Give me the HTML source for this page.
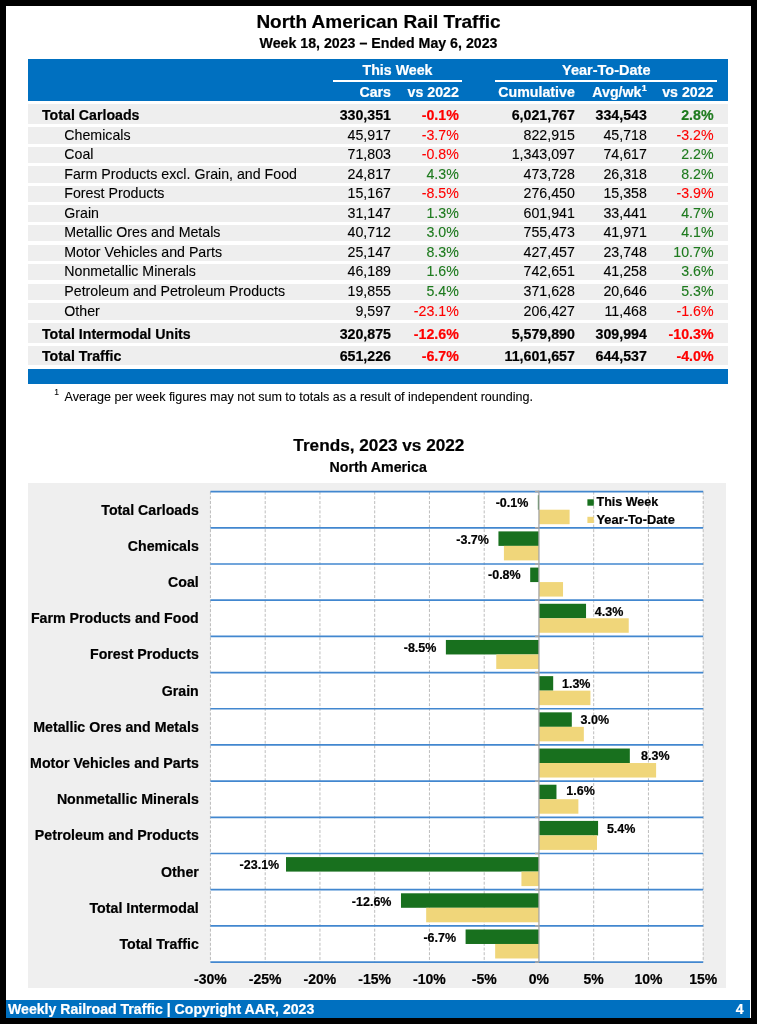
<!DOCTYPE html>
<html><head><meta charset="utf-8"><title>North American Rail Traffic</title>
<style>
*{margin:0;padding:0;box-sizing:border-box}
html,body{width:757px;height:1024px;overflow:hidden;background:#000}
body{font-family:"Liberation Sans",sans-serif;color:#000;position:relative;-webkit-font-smoothing:antialiased}
#wrap{position:absolute;left:0;top:0;width:757px;height:1024px;will-change:transform}
.a{-webkit-text-stroke:0.1px currentColor}
.a.b{-webkit-text-stroke:0.2px currentColor}
svg text{stroke:currentColor;stroke-width:0.2px}
#page{position:absolute;left:6px;top:6px;width:745px;height:1012px;background:#fff}
.a{position:absolute;white-space:nowrap}
.r{text-align:right}
.c{text-align:center}
.b{font-weight:bold}
.w{color:#fff}
.red{color:#ff0000}
.grn{color:#1d7a1d}
.bar{position:absolute;left:28px;width:700px;background:#0070c0}
.row{position:absolute;left:28px;width:700px;background:#eeeeee}
</style></head><body><div id="wrap">
<div id="page"></div>

<div class="a c b" style="left:228.50px;width:300px;top:12.12px;font-size:19px;line-height:19px;">North American Rail Traffic</div>
<div class="a c b" style="left:228.50px;width:300px;top:35.98px;font-size:14.2px;line-height:14.2px;">Week 18, 2023 &ndash; Ended May 6, 2023</div>
<div class="bar" style="top:59px;height:42px"></div>
<div class="a" style="left:332.5px;top:80px;width:129px;height:2px;background:#fff"></div>
<div class="a" style="left:495px;top:80px;width:222px;height:2px;background:#fff"></div>
<div class="a c b w" style="left:247.50px;width:300px;top:63.18px;font-size:14.2px;line-height:14.2px;">This Week</div>
<div class="a c b w" style="left:456.30px;width:300px;top:62.93px;font-size:14.5px;line-height:14.5px;">Year-To-Date</div>
<div class="a r b w" style="right:366.00px;top:85.48px;font-size:14.2px;line-height:14.2px;">Cars</div>
<div class="a r b w" style="right:298.20px;top:85.48px;font-size:14.2px;line-height:14.2px;">vs 2022</div>
<div class="a r b w" style="right:182.20px;top:85.48px;font-size:14.2px;line-height:14.2px;">Cumulative</div>
<div class="a r b w" style="right:110.20px;top:85.48px;font-size:14.2px;line-height:14.2px;">Avg/wk<sup style="font-size:9px;position:relative;top:-6.3px;vertical-align:baseline;margin-left:0.3px">1</sup></div>
<div class="a r b w" style="right:43.50px;top:85.48px;font-size:14.2px;line-height:14.2px;">vs 2022</div>
<div class="row" style="top:104.00px;height:20.00px"></div>
<div class="a b" style="left:42.00px;top:107.78px;font-size:14.2px;line-height:14.2px;">Total Carloads</div>
<div class="a r b" style="right:366.00px;top:107.78px;font-size:14.2px;line-height:14.2px;">330,351</div>
<div class="a r b red" style="right:298.20px;top:107.78px;font-size:14.2px;line-height:14.2px;">-0.1%</div>
<div class="a r b" style="right:182.20px;top:107.78px;font-size:14.2px;line-height:14.2px;">6,021,767</div>
<div class="a r b" style="right:110.20px;top:107.78px;font-size:14.2px;line-height:14.2px;">334,543</div>
<div class="a r b grn" style="right:43.50px;top:107.78px;font-size:14.2px;line-height:14.2px;">2.8%</div>
<div class="row" style="top:127.20px;height:16.40px"></div>
<div class="a " style="left:64.30px;top:127.58px;font-size:14.2px;line-height:14.2px;">Chemicals</div>
<div class="a r " style="right:366.00px;top:127.58px;font-size:14.2px;line-height:14.2px;">45,917</div>
<div class="a r  red" style="right:298.20px;top:127.58px;font-size:14.2px;line-height:14.2px;">-3.7%</div>
<div class="a r " style="right:182.20px;top:127.58px;font-size:14.2px;line-height:14.2px;">822,915</div>
<div class="a r " style="right:110.20px;top:127.58px;font-size:14.2px;line-height:14.2px;">45,718</div>
<div class="a r  red" style="right:43.50px;top:127.58px;font-size:14.2px;line-height:14.2px;">-3.2%</div>
<div class="row" style="top:146.75px;height:16.40px"></div>
<div class="a " style="left:64.30px;top:147.13px;font-size:14.2px;line-height:14.2px;">Coal</div>
<div class="a r " style="right:366.00px;top:147.13px;font-size:14.2px;line-height:14.2px;">71,803</div>
<div class="a r  red" style="right:298.20px;top:147.13px;font-size:14.2px;line-height:14.2px;">-0.8%</div>
<div class="a r " style="right:182.20px;top:147.13px;font-size:14.2px;line-height:14.2px;">1,343,097</div>
<div class="a r " style="right:110.20px;top:147.13px;font-size:14.2px;line-height:14.2px;">74,617</div>
<div class="a r  grn" style="right:43.50px;top:147.13px;font-size:14.2px;line-height:14.2px;">2.2%</div>
<div class="row" style="top:166.30px;height:16.40px"></div>
<div class="a " style="left:64.30px;top:166.68px;font-size:14.2px;line-height:14.2px;">Farm Products excl. Grain, and Food</div>
<div class="a r " style="right:366.00px;top:166.68px;font-size:14.2px;line-height:14.2px;">24,817</div>
<div class="a r  grn" style="right:298.20px;top:166.68px;font-size:14.2px;line-height:14.2px;">4.3%</div>
<div class="a r " style="right:182.20px;top:166.68px;font-size:14.2px;line-height:14.2px;">473,728</div>
<div class="a r " style="right:110.20px;top:166.68px;font-size:14.2px;line-height:14.2px;">26,318</div>
<div class="a r  grn" style="right:43.50px;top:166.68px;font-size:14.2px;line-height:14.2px;">8.2%</div>
<div class="row" style="top:185.85px;height:16.40px"></div>
<div class="a " style="left:64.30px;top:186.23px;font-size:14.2px;line-height:14.2px;">Forest Products</div>
<div class="a r " style="right:366.00px;top:186.23px;font-size:14.2px;line-height:14.2px;">15,167</div>
<div class="a r  red" style="right:298.20px;top:186.23px;font-size:14.2px;line-height:14.2px;">-8.5%</div>
<div class="a r " style="right:182.20px;top:186.23px;font-size:14.2px;line-height:14.2px;">276,450</div>
<div class="a r " style="right:110.20px;top:186.23px;font-size:14.2px;line-height:14.2px;">15,358</div>
<div class="a r  red" style="right:43.50px;top:186.23px;font-size:14.2px;line-height:14.2px;">-3.9%</div>
<div class="row" style="top:205.40px;height:16.40px"></div>
<div class="a " style="left:64.30px;top:205.78px;font-size:14.2px;line-height:14.2px;">Grain</div>
<div class="a r " style="right:366.00px;top:205.78px;font-size:14.2px;line-height:14.2px;">31,147</div>
<div class="a r  grn" style="right:298.20px;top:205.78px;font-size:14.2px;line-height:14.2px;">1.3%</div>
<div class="a r " style="right:182.20px;top:205.78px;font-size:14.2px;line-height:14.2px;">601,941</div>
<div class="a r " style="right:110.20px;top:205.78px;font-size:14.2px;line-height:14.2px;">33,441</div>
<div class="a r  grn" style="right:43.50px;top:205.78px;font-size:14.2px;line-height:14.2px;">4.7%</div>
<div class="row" style="top:224.95px;height:16.40px"></div>
<div class="a " style="left:64.30px;top:225.33px;font-size:14.2px;line-height:14.2px;">Metallic Ores and Metals</div>
<div class="a r " style="right:366.00px;top:225.33px;font-size:14.2px;line-height:14.2px;">40,712</div>
<div class="a r  grn" style="right:298.20px;top:225.33px;font-size:14.2px;line-height:14.2px;">3.0%</div>
<div class="a r " style="right:182.20px;top:225.33px;font-size:14.2px;line-height:14.2px;">755,473</div>
<div class="a r " style="right:110.20px;top:225.33px;font-size:14.2px;line-height:14.2px;">41,971</div>
<div class="a r  grn" style="right:43.50px;top:225.33px;font-size:14.2px;line-height:14.2px;">4.1%</div>
<div class="row" style="top:244.50px;height:16.40px"></div>
<div class="a " style="left:64.30px;top:244.88px;font-size:14.2px;line-height:14.2px;">Motor Vehicles and Parts</div>
<div class="a r " style="right:366.00px;top:244.88px;font-size:14.2px;line-height:14.2px;">25,147</div>
<div class="a r  grn" style="right:298.20px;top:244.88px;font-size:14.2px;line-height:14.2px;">8.3%</div>
<div class="a r " style="right:182.20px;top:244.88px;font-size:14.2px;line-height:14.2px;">427,457</div>
<div class="a r " style="right:110.20px;top:244.88px;font-size:14.2px;line-height:14.2px;">23,748</div>
<div class="a r  grn" style="right:43.50px;top:244.88px;font-size:14.2px;line-height:14.2px;">10.7%</div>
<div class="row" style="top:264.05px;height:16.40px"></div>
<div class="a " style="left:64.30px;top:264.43px;font-size:14.2px;line-height:14.2px;">Nonmetallic Minerals</div>
<div class="a r " style="right:366.00px;top:264.43px;font-size:14.2px;line-height:14.2px;">46,189</div>
<div class="a r  grn" style="right:298.20px;top:264.43px;font-size:14.2px;line-height:14.2px;">1.6%</div>
<div class="a r " style="right:182.20px;top:264.43px;font-size:14.2px;line-height:14.2px;">742,651</div>
<div class="a r " style="right:110.20px;top:264.43px;font-size:14.2px;line-height:14.2px;">41,258</div>
<div class="a r  grn" style="right:43.50px;top:264.43px;font-size:14.2px;line-height:14.2px;">3.6%</div>
<div class="row" style="top:283.60px;height:16.40px"></div>
<div class="a " style="left:64.30px;top:283.98px;font-size:14.2px;line-height:14.2px;">Petroleum and Petroleum Products</div>
<div class="a r " style="right:366.00px;top:283.98px;font-size:14.2px;line-height:14.2px;">19,855</div>
<div class="a r  grn" style="right:298.20px;top:283.98px;font-size:14.2px;line-height:14.2px;">5.4%</div>
<div class="a r " style="right:182.20px;top:283.98px;font-size:14.2px;line-height:14.2px;">371,628</div>
<div class="a r " style="right:110.20px;top:283.98px;font-size:14.2px;line-height:14.2px;">20,646</div>
<div class="a r  grn" style="right:43.50px;top:283.98px;font-size:14.2px;line-height:14.2px;">5.3%</div>
<div class="row" style="top:303.15px;height:16.40px"></div>
<div class="a " style="left:64.30px;top:303.53px;font-size:14.2px;line-height:14.2px;">Other</div>
<div class="a r " style="right:366.00px;top:303.53px;font-size:14.2px;line-height:14.2px;">9,597</div>
<div class="a r  red" style="right:298.20px;top:303.53px;font-size:14.2px;line-height:14.2px;">-23.1%</div>
<div class="a r " style="right:182.20px;top:303.53px;font-size:14.2px;line-height:14.2px;">206,427</div>
<div class="a r " style="right:110.20px;top:303.53px;font-size:14.2px;line-height:14.2px;">11,468</div>
<div class="a r  red" style="right:43.50px;top:303.53px;font-size:14.2px;line-height:14.2px;">-1.6%</div>
<div class="row" style="top:323.00px;height:19.50px"></div>
<div class="a b" style="left:42.00px;top:326.68px;font-size:14.2px;line-height:14.2px;">Total Intermodal Units</div>
<div class="a r b" style="right:366.00px;top:326.68px;font-size:14.2px;line-height:14.2px;">320,875</div>
<div class="a r b red" style="right:298.20px;top:326.68px;font-size:14.2px;line-height:14.2px;">-12.6%</div>
<div class="a r b" style="right:182.20px;top:326.68px;font-size:14.2px;line-height:14.2px;">5,579,890</div>
<div class="a r b" style="right:110.20px;top:326.68px;font-size:14.2px;line-height:14.2px;">309,994</div>
<div class="a r b red" style="right:43.50px;top:326.68px;font-size:14.2px;line-height:14.2px;">-10.3%</div>
<div class="row" style="top:346.00px;height:19.20px"></div>
<div class="a b" style="left:42.00px;top:349.28px;font-size:14.2px;line-height:14.2px;">Total Traffic</div>
<div class="a r b" style="right:366.00px;top:349.28px;font-size:14.2px;line-height:14.2px;">651,226</div>
<div class="a r b red" style="right:298.20px;top:349.28px;font-size:14.2px;line-height:14.2px;">-6.7%</div>
<div class="a r b" style="right:182.20px;top:349.28px;font-size:14.2px;line-height:14.2px;">11,601,657</div>
<div class="a r b" style="right:110.20px;top:349.28px;font-size:14.2px;line-height:14.2px;">644,537</div>
<div class="a r b red" style="right:43.50px;top:349.28px;font-size:14.2px;line-height:14.2px;">-4.0%</div>
<div class="bar" style="top:368.6px;height:15.2px"></div>
<div class="a" style="left:54.2px;top:388.2px;font-size:8.5px;line-height:8.5px">1</div>
<div class="a " style="left:64.50px;top:390.88px;font-size:12.55px;line-height:12.55px;">Average per week figures may not sum to totals as a result of independent rounding.</div>
<div class="a c b" style="left:228.90px;width:300px;top:436.84px;font-size:17.2px;line-height:17.2px;">Trends, 2023 vs 2022</div>
<div class="a c b" style="left:228.20px;width:300px;top:459.68px;font-size:14.2px;line-height:14.2px;">North America</div>
<div class="a" style="left:28px;top:482.5px;width:698.4px;height:505.7px;background:#efefef"></div>
<svg class="a" style="left:0;top:0" width="757" height="1024" viewBox="0 0 757 1024">
<rect x="210.45" y="491.60" width="492.75" height="470.47" fill="#fff"/>
<line x1="210.45" y1="491.60" x2="210.45" y2="962.07" stroke="#bdbdbd" stroke-width="1" stroke-dasharray="3 1.7"/>
<line x1="265.20" y1="491.60" x2="265.20" y2="962.07" stroke="#bdbdbd" stroke-width="1" stroke-dasharray="3 1.7"/>
<line x1="319.95" y1="491.60" x2="319.95" y2="962.07" stroke="#bdbdbd" stroke-width="1" stroke-dasharray="3 1.7"/>
<line x1="374.70" y1="491.60" x2="374.70" y2="962.07" stroke="#bdbdbd" stroke-width="1" stroke-dasharray="3 1.7"/>
<line x1="429.45" y1="491.60" x2="429.45" y2="962.07" stroke="#bdbdbd" stroke-width="1" stroke-dasharray="3 1.7"/>
<line x1="484.20" y1="491.60" x2="484.20" y2="962.07" stroke="#bdbdbd" stroke-width="1" stroke-dasharray="3 1.7"/>
<line x1="593.70" y1="491.60" x2="593.70" y2="962.07" stroke="#bdbdbd" stroke-width="1" stroke-dasharray="3 1.7"/>
<line x1="648.45" y1="491.60" x2="648.45" y2="962.07" stroke="#bdbdbd" stroke-width="1" stroke-dasharray="3 1.7"/>
<line x1="703.20" y1="491.60" x2="703.20" y2="962.07" stroke="#bdbdbd" stroke-width="1" stroke-dasharray="3 1.7"/>
<rect x="537.86" y="495.20" width="1.10" height="14.5" fill="#18701e"/>
<rect x="538.95" y="509.70" width="30.66" height="14.5" fill="#f0d67a"/>
<rect x="498.44" y="531.39" width="40.51" height="14.5" fill="#18701e"/>
<rect x="503.91" y="545.89" width="35.04" height="14.5" fill="#f0d67a"/>
<rect x="530.19" y="567.58" width="8.76" height="14.5" fill="#18701e"/>
<rect x="538.95" y="582.08" width="24.09" height="14.5" fill="#f0d67a"/>
<rect x="538.95" y="603.77" width="47.09" height="14.5" fill="#18701e"/>
<rect x="538.95" y="618.27" width="89.79" height="14.5" fill="#f0d67a"/>
<rect x="445.88" y="639.96" width="93.07" height="14.5" fill="#18701e"/>
<rect x="496.25" y="654.46" width="42.70" height="14.5" fill="#f0d67a"/>
<rect x="538.95" y="676.15" width="14.24" height="14.5" fill="#18701e"/>
<rect x="538.95" y="690.65" width="51.47" height="14.5" fill="#f0d67a"/>
<rect x="538.95" y="712.34" width="32.85" height="14.5" fill="#18701e"/>
<rect x="538.95" y="726.84" width="44.89" height="14.5" fill="#f0d67a"/>
<rect x="538.95" y="748.53" width="90.88" height="14.5" fill="#18701e"/>
<rect x="538.95" y="763.03" width="117.16" height="14.5" fill="#f0d67a"/>
<rect x="538.95" y="784.72" width="17.52" height="14.5" fill="#18701e"/>
<rect x="538.95" y="799.22" width="39.42" height="14.5" fill="#f0d67a"/>
<rect x="538.95" y="820.91" width="59.13" height="14.5" fill="#18701e"/>
<rect x="538.95" y="835.41" width="58.03" height="14.5" fill="#f0d67a"/>
<rect x="286.01" y="857.10" width="252.94" height="14.5" fill="#18701e"/>
<rect x="521.43" y="871.60" width="17.52" height="14.5" fill="#f0d67a"/>
<rect x="400.98" y="893.29" width="137.97" height="14.5" fill="#18701e"/>
<rect x="426.17" y="907.79" width="112.78" height="14.5" fill="#f0d67a"/>
<rect x="465.59" y="929.48" width="73.37" height="14.5" fill="#18701e"/>
<rect x="495.15" y="943.98" width="43.80" height="14.5" fill="#f0d67a"/>
<line x1="210.45" y1="491.60" x2="703.20" y2="491.60" stroke="#4287cf" stroke-width="1.7"/>
<line x1="210.45" y1="527.79" x2="703.20" y2="527.79" stroke="#4287cf" stroke-width="1.7"/>
<line x1="210.45" y1="563.98" x2="703.20" y2="563.98" stroke="#4287cf" stroke-width="1.7"/>
<line x1="210.45" y1="600.17" x2="703.20" y2="600.17" stroke="#4287cf" stroke-width="1.7"/>
<line x1="210.45" y1="636.36" x2="703.20" y2="636.36" stroke="#4287cf" stroke-width="1.7"/>
<line x1="210.45" y1="672.55" x2="703.20" y2="672.55" stroke="#4287cf" stroke-width="1.7"/>
<line x1="210.45" y1="708.74" x2="703.20" y2="708.74" stroke="#4287cf" stroke-width="1.7"/>
<line x1="210.45" y1="744.93" x2="703.20" y2="744.93" stroke="#4287cf" stroke-width="1.7"/>
<line x1="210.45" y1="781.12" x2="703.20" y2="781.12" stroke="#4287cf" stroke-width="1.7"/>
<line x1="210.45" y1="817.31" x2="703.20" y2="817.31" stroke="#4287cf" stroke-width="1.7"/>
<line x1="210.45" y1="853.50" x2="703.20" y2="853.50" stroke="#4287cf" stroke-width="1.7"/>
<line x1="210.45" y1="889.69" x2="703.20" y2="889.69" stroke="#4287cf" stroke-width="1.7"/>
<line x1="210.45" y1="925.88" x2="703.20" y2="925.88" stroke="#4287cf" stroke-width="1.7"/>
<line x1="210.45" y1="962.07" x2="703.20" y2="962.07" stroke="#4287cf" stroke-width="1.7"/>
<line x1="538.95" y1="490.80" x2="538.95" y2="962.07" stroke="#a6a6a6" stroke-width="1.3"/>
<line x1="534.95" y1="491.60" x2="538.95" y2="491.60" stroke="#a6a6a6" stroke-width="1.6"/>
<line x1="534.95" y1="527.79" x2="538.95" y2="527.79" stroke="#a6a6a6" stroke-width="1.6"/>
<line x1="534.95" y1="563.98" x2="538.95" y2="563.98" stroke="#a6a6a6" stroke-width="1.6"/>
<line x1="534.95" y1="600.17" x2="538.95" y2="600.17" stroke="#a6a6a6" stroke-width="1.6"/>
<line x1="534.95" y1="636.36" x2="538.95" y2="636.36" stroke="#a6a6a6" stroke-width="1.6"/>
<line x1="534.95" y1="672.55" x2="538.95" y2="672.55" stroke="#a6a6a6" stroke-width="1.6"/>
<line x1="534.95" y1="708.74" x2="538.95" y2="708.74" stroke="#a6a6a6" stroke-width="1.6"/>
<line x1="534.95" y1="744.93" x2="538.95" y2="744.93" stroke="#a6a6a6" stroke-width="1.6"/>
<line x1="534.95" y1="781.12" x2="538.95" y2="781.12" stroke="#a6a6a6" stroke-width="1.6"/>
<line x1="534.95" y1="817.31" x2="538.95" y2="817.31" stroke="#a6a6a6" stroke-width="1.6"/>
<line x1="534.95" y1="853.50" x2="538.95" y2="853.50" stroke="#a6a6a6" stroke-width="1.6"/>
<line x1="534.95" y1="889.69" x2="538.95" y2="889.69" stroke="#a6a6a6" stroke-width="1.6"/>
<line x1="534.95" y1="925.88" x2="538.95" y2="925.88" stroke="#a6a6a6" stroke-width="1.6"/>
<line x1="534.95" y1="962.07" x2="538.95" y2="962.07" stroke="#a6a6a6" stroke-width="1.6"/>
<text x="198.8" y="514.60" text-anchor="end" font-family="Liberation Sans" font-weight="bold" font-size="14.2">Total Carloads</text>
<text x="198.8" y="550.78" text-anchor="end" font-family="Liberation Sans" font-weight="bold" font-size="14.2">Chemicals</text>
<text x="198.8" y="586.98" text-anchor="end" font-family="Liberation Sans" font-weight="bold" font-size="14.2">Coal</text>
<text x="198.8" y="623.16" text-anchor="end" font-family="Liberation Sans" font-weight="bold" font-size="14.2">Farm Products and Food</text>
<text x="198.8" y="659.36" text-anchor="end" font-family="Liberation Sans" font-weight="bold" font-size="14.2">Forest Products</text>
<text x="198.8" y="695.54" text-anchor="end" font-family="Liberation Sans" font-weight="bold" font-size="14.2">Grain</text>
<text x="198.8" y="731.74" text-anchor="end" font-family="Liberation Sans" font-weight="bold" font-size="14.2">Metallic Ores and Metals</text>
<text x="198.8" y="767.92" text-anchor="end" font-family="Liberation Sans" font-weight="bold" font-size="14.2">Motor Vehicles and Parts</text>
<text x="198.8" y="804.12" text-anchor="end" font-family="Liberation Sans" font-weight="bold" font-size="14.2">Nonmetallic Minerals</text>
<text x="198.8" y="840.30" text-anchor="end" font-family="Liberation Sans" font-weight="bold" font-size="14.2">Petroleum and Products</text>
<text x="198.8" y="876.50" text-anchor="end" font-family="Liberation Sans" font-weight="bold" font-size="14.2">Other</text>
<text x="198.8" y="912.68" text-anchor="end" font-family="Liberation Sans" font-weight="bold" font-size="14.2">Total Intermodal</text>
<text x="198.8" y="948.88" text-anchor="end" font-family="Liberation Sans" font-weight="bold" font-size="14.2">Total Traffic</text>
<text x="528.36" y="507.05" text-anchor="end" font-family="Liberation Sans" font-weight="bold" font-size="12.5">-0.1%</text>
<text x="488.94" y="543.94" text-anchor="end" font-family="Liberation Sans" font-weight="bold" font-size="12.5">-3.7%</text>
<text x="520.69" y="579.43" text-anchor="end" font-family="Liberation Sans" font-weight="bold" font-size="12.5">-0.8%</text>
<text x="594.84" y="615.62" font-family="Liberation Sans" font-weight="bold" font-size="12.5">4.3%</text>
<text x="436.38" y="651.81" text-anchor="end" font-family="Liberation Sans" font-weight="bold" font-size="12.5">-8.5%</text>
<text x="561.99" y="688.00" font-family="Liberation Sans" font-weight="bold" font-size="12.5">1.3%</text>
<text x="580.60" y="724.19" font-family="Liberation Sans" font-weight="bold" font-size="12.5">3.0%</text>
<text x="641.03" y="760.38" font-family="Liberation Sans" font-weight="bold" font-size="12.5">8.3%</text>
<text x="566.27" y="794.57" font-family="Liberation Sans" font-weight="bold" font-size="12.5">1.6%</text>
<text x="606.88" y="832.76" font-family="Liberation Sans" font-weight="bold" font-size="12.5">5.4%</text>
<text x="279.21" y="868.95" text-anchor="end" font-family="Liberation Sans" font-weight="bold" font-size="12.5">-23.1%</text>
<text x="391.48" y="905.84" text-anchor="end" font-family="Liberation Sans" font-weight="bold" font-size="12.5">-12.6%</text>
<text x="456.09" y="942.13" text-anchor="end" font-family="Liberation Sans" font-weight="bold" font-size="12.5">-6.7%</text>
<text x="210.45" y="983.5" text-anchor="middle" font-family="Liberation Sans" font-weight="bold" font-size="14">-30%</text>
<text x="265.20" y="983.5" text-anchor="middle" font-family="Liberation Sans" font-weight="bold" font-size="14">-25%</text>
<text x="319.95" y="983.5" text-anchor="middle" font-family="Liberation Sans" font-weight="bold" font-size="14">-20%</text>
<text x="374.70" y="983.5" text-anchor="middle" font-family="Liberation Sans" font-weight="bold" font-size="14">-15%</text>
<text x="429.45" y="983.5" text-anchor="middle" font-family="Liberation Sans" font-weight="bold" font-size="14">-10%</text>
<text x="484.20" y="983.5" text-anchor="middle" font-family="Liberation Sans" font-weight="bold" font-size="14">-5%</text>
<text x="538.95" y="983.5" text-anchor="middle" font-family="Liberation Sans" font-weight="bold" font-size="14">0%</text>
<text x="593.70" y="983.5" text-anchor="middle" font-family="Liberation Sans" font-weight="bold" font-size="14">5%</text>
<text x="648.45" y="983.5" text-anchor="middle" font-family="Liberation Sans" font-weight="bold" font-size="14">10%</text>
<text x="703.20" y="983.5" text-anchor="middle" font-family="Liberation Sans" font-weight="bold" font-size="14">15%</text>
<rect x="587.4" y="499.3" width="6.4" height="6.4" fill="#18701e"/>
<rect x="587.4" y="516.8" width="6.4" height="6.2" fill="#f0d67a"/>
<text x="596.5" y="506.4" font-family="Liberation Sans" font-weight="bold" font-size="12.5">This Week</text>
<text x="596.5" y="523.6" font-family="Liberation Sans" font-weight="bold" font-size="12.85">Year-To-Date</text>
</svg>
<div class="a" style="left:6px;top:1000.3px;width:744.3px;height:17.7px;background:#0070c0"></div>
<div class="a b w" style="left:8.00px;top:1001.66px;font-size:14.1px;line-height:14.1px;">Weekly Railroad Traffic | Copyright AAR, 2023</div>
<div class="a r b w" style="right:13.40px;top:1001.75px;font-size:14px;line-height:14px;">4</div>
</div></body></html>
